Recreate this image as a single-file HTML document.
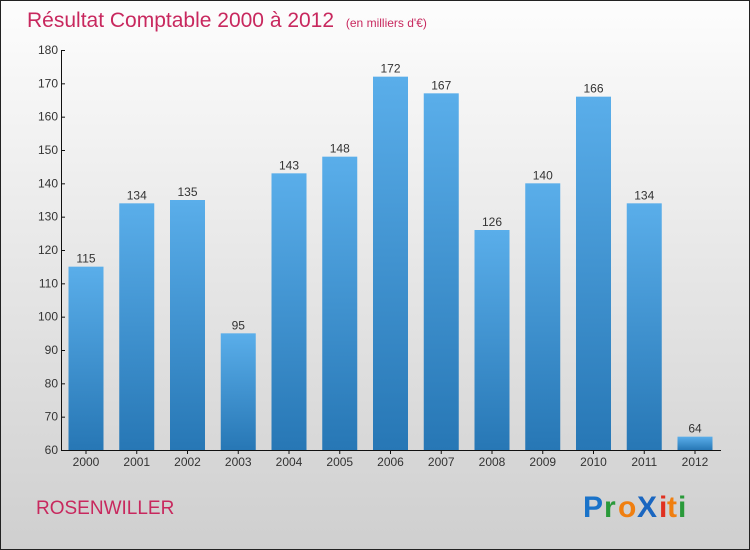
<!DOCTYPE html>
<html><head><meta charset="utf-8"><style>
body{margin:0;width:750px;height:550px;overflow:hidden}
svg{display:block;font-family:"Liberation Sans",sans-serif}
</style></head><body>
<svg width="750" height="550" xmlns="http://www.w3.org/2000/svg">
<defs>
<linearGradient id="bg" x1="0" y1="0" x2="0" y2="1"><stop offset="0" stop-color="#fdfdfd"/><stop offset="1" stop-color="#cfcfcf"/></linearGradient>
<linearGradient id="bar" x1="0" y1="0" x2="0" y2="1"><stop offset="0" stop-color="#5aaeea"/><stop offset="1" stop-color="#2777b5"/></linearGradient>
</defs>
<rect x="0.5" y="0.5" width="749" height="549" fill="url(#bg)" stroke="#222"/>
<text x="27" y="27" font-size="21" fill="#c8285e">Résultat Comptable 2000 à 2012 <tspan font-size="12" dx="6">(en milliers d'€)</tspan></text>
<g id="yaxis"></g>
<g id="bars"></g>
<text x="36" y="514" font-size="19" fill="#c8285e">ROSENWILLER</text>
<g font-size="30" font-weight="bold">
<text x="583" y="517" fill="#1a73c9">P</text><text x="604" y="517" fill="#2a9a3a">r</text><text x="618" y="517" fill="#f07f10">o</text><text x="637" y="517" fill="#1a66c0">X</text><text x="659" y="517" fill="#e03020">i</text><text x="667" y="517" fill="#f07f10">t</text><text x="678" y="517" fill="#2a9a3a">i</text>
</g>
</svg>
<script>
const years=["2000","2001","2002","2003","2004","2005","2006","2007","2008","2009","2010","2011","2012"];
const values=[115,134,135,95,143,148,172,167,126,140,166,134,64];
const yTicks=[60,70,80,90,100,110,120,130,140,150,160,170,180];
const NS="http://www.w3.org/2000/svg";
const y=v=>450-(v-60)*400/120;
const x=i=>86+i*50.75;
function mk(t,a,p){const e=document.createElementNS(NS,t);for(const k in a)e.setAttribute(k,a[k]);p.appendChild(e);return e;}
const ya=document.getElementById('yaxis'),bg=document.getElementById('bars');
mk('line',{x1:61.5,y1:y(180),x2:61.5,y2:450,stroke:'#111'},ya);
mk('line',{x1:61,y1:450.5,x2:721,y2:450.5,stroke:'#111'},ya);
yTicks.forEach(t=>{
 mk('line',{x1:61,y1:y(t)+.5,x2:65,y2:y(t)+.5,stroke:'#111'},ya);
 const tx=mk('text',{x:58,y:y(t)+4,'font-size':12,'text-anchor':'end',fill:'#333'},ya);
 
 
 tx.textContent=t;
});
values.forEach((v,i)=>{
 const r=mk('rect',{x:x(i)-17.5,y:y(v),width:35,height:450-y(v),fill:'url(#bar)'},bg);
 
 
 const l=mk('text',{x:x(i),y:y(v)-4,'font-size':12,'text-anchor':'middle',fill:'#333'},bg);
 
 
 l.textContent=v;
 const xl=mk('text',{x:x(i),y:466,'font-size':12,'text-anchor':'middle',fill:'#333'},bg);
 
 
 xl.textContent=years[i];
 mk('line',{x1:x(i),y1:450,x2:x(i),y2:454,stroke:'#111'},bg);
});
</script>
</body></html>
